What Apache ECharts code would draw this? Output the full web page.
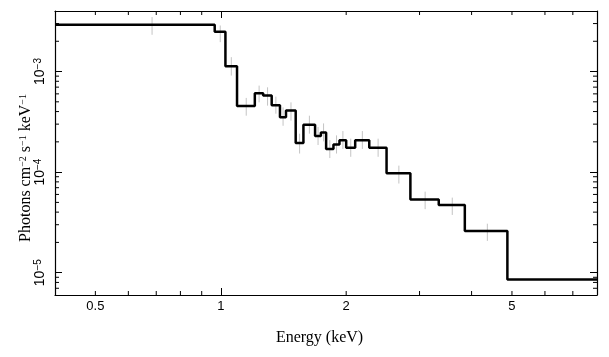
<!DOCTYPE html>
<html><head><meta charset="utf-8">
<script src="https://cdn.jsdelivr.net/npm/echarts@6/dist/echarts.min.js"></script>
<style>html,body{margin:0;padding:0;background:#fff}#c{width:609px;height:357px}</style>
</head><body><div id="c"></div>
<script>
// Step model: bin edges (keV) and model flux per bin
const binEdges = [0.4, 0.967, 1.026, 1.094, 1.207, 1.264, 1.325, 1.387, 1.434, 1.513, 1.579, 1.684, 1.739, 1.790, 1.864, 1.927, 2.000, 2.102, 2.272, 2.500, 2.852, 3.336, 3.853, 4.875, 8.0];
const modelFlux = [2.92e-3, 2.49e-3, 1.13e-3, 4.55e-4, 6.08e-4, 5.79e-4, 4.63e-4, 3.52e-4, 4.11e-4, 1.95e-4, 2.96e-4, 2.29e-4, 2.48e-4, 1.70e-4, 1.88e-4, 2.08e-4, 1.75e-4, 2.08e-4, 1.75e-4, 9.73e-5, 5.33e-5, 4.72e-5, 2.60e-5, 8.57e-6];
// Data error bars (grey)
const dataEnergy = [0.684, 0.997, 1.060, 1.151, 1.236, 1.295, 1.356, 1.411, 1.474, 1.546, 1.632, 1.712, 1.765, 1.827, 1.896, 1.964, 2.051, 2.187, 2.386, 2.676, 3.094, 3.595, 4.364];
const errHigh = [3.48e-3, 2.87e-3, 1.39e-3, 5.47e-4, 7.25e-4, 6.97e-4, 5.63e-4, 4.40e-4, 4.94e-4, 2.41e-4, 3.64e-4, 2.81e-4, 3.05e-4, 2.08e-4, 2.32e-4, 2.56e-4, 2.15e-4, 2.56e-4, 2.15e-4, 1.16e-4, 6.40e-5, 5.58e-5, 3.07e-5];
const errLow = [2.32e-3, 1.96e-3, 9.12e-4, 3.64e-4, 4.94e-4, 4.58e-4, 3.81e-4, 2.89e-4, 3.25e-4, 1.53e-4, 2.41e-4, 1.86e-4, 2.02e-4, 1.38e-4, 1.53e-4, 1.70e-4, 1.42e-4, 1.70e-4, 1.42e-4, 7.70e-5, 4.28e-5, 3.75e-5, 2.07e-5];
// Axes / ticks
const xRange = [0.4, 8];
const yRange = [6e-6, 4e-3];
const xMajorTicks = [1];
const xLabelValues = [0.5, 1, 2, 5];
const xMinorTicks = [0.5, 0.6, 0.7, 0.8, 0.9, 2, 3, 4, 5, 6, 7];
const yMajorTicks = [1e-5, 1e-4, 1e-3];
const yMajorLabels = ['10{s|\u22125}', '10{s|\u22124}', '10{s|\u22123}'];
const yMinorTicks = [7e-6, 8e-6, 9e-6, 2e-5, 3e-5, 4e-5, 5e-5, 6e-5, 7e-5, 8e-5, 9e-5, 2e-4, 3e-4, 4e-4, 5e-4, 6e-4, 7e-4, 8e-4, 9e-4, 2e-3, 3e-3];
const xTitle = 'Energy (keV)';
const yTitle = 'Photons cm{s|\u22122} s{s|\u22121} keV{s|\u22121}';

const SANS = 'Liberation Sans';
const SERIF = 'Liberation Serif';
const stepData = binEdges.map((e, i) => [e, modelFlux[Math.min(i, modelFlux.length - 1)]]);

const chart = echarts.init(document.getElementById('c'));
const lineCol = '#000';
function baseX(pos) {
  return {
    type: 'log', logBase: 10, min: xRange[0], max: xRange[1], position: pos,
    axisLine: { show: true, lineStyle: { color: lineCol, width: 1.2 } },
    axisTick: { show: true, inside: true, length: 7, customValues: xMajorTicks, lineStyle: { color: lineCol, width: 1 } },
    axisLabel: { show: false },
    splitLine: { show: false }, minorTick: { show: false }
  };
}
function baseY(pos) {
  return {
    type: 'log', logBase: 10, min: yRange[0], max: yRange[1], position: pos,
    axisLine: { show: true, lineStyle: { color: lineCol, width: 1.2 } },
    axisTick: { show: true, inside: true, length: 7, customValues: yMajorTicks, lineStyle: { color: lineCol, width: 1 } },
    axisLabel: { show: false },
    splitLine: { show: false }, minorTick: { show: false }
  };
}
const xBottom = baseX('bottom');
xBottom.axisLabel = { show: true, customValues: xLabelValues, fontFamily: SANS, fontSize: 13, color: '#000', margin: 5, formatter: v => String(+v.toPrecision(6)) };
xBottom.name = xTitle; xBottom.nameLocation = 'middle'; xBottom.nameGap = 35; xBottom.nameMoveOverlap = false;
xBottom.nameTextStyle = { fontFamily: SERIF, fontSize: 16, color: '#000', padding: [0, 13, 0, 0] };
const yLeft = baseY('left');
yLeft.axisLabel = {
  show: true, customValues: yMajorTicks, rotate: 90, margin: 8, fontFamily: SANS, fontSize: 14, color: '#000',
  formatter: v => { const i = yMajorTicks.findIndex(t => Math.abs(v / t - 1) < 1e-6); return i < 0 ? '' : yMajorLabels[i]; },
  rich: { s: { fontFamily: SANS, fontSize: 10, color: '#000', verticalAlign: 'top' } }
};
yLeft.name = yTitle; yLeft.nameLocation = 'middle'; yLeft.nameGap = 21; yLeft.nameMoveOverlap = false;
yLeft.nameTextStyle = { fontFamily: SERIF, fontSize: 16, color: '#000', padding: [0, 30, 0, 0],
  rich: { s: { fontFamily: SERIF, fontSize: 10, color: '#000', verticalAlign: 'top' } } };

function tickRender(kind) {
  return function (params, api) {
    const cs = params.coordSys;
    const p = api.coord([api.value(0), api.value(1)]);
    const L = 4, st = { stroke: lineCol, lineWidth: 1 };
    if (kind === 'x') {
      return { type: 'group', children: [
        { type: 'line', shape: { x1: p[0], y1: cs.y + cs.height, x2: p[0], y2: cs.y + cs.height - L }, style: st },
        { type: 'line', shape: { x1: p[0], y1: cs.y, x2: p[0], y2: cs.y + L }, style: st }
      ] };
    }
    return { type: 'group', children: [
      { type: 'line', shape: { x1: cs.x, y1: p[1], x2: cs.x + L, y2: p[1] }, style: st },
      { type: 'line', shape: { x1: cs.x + cs.width, y1: p[1], x2: cs.x + cs.width - L, y2: p[1] }, style: st }
    ] };
  };
}

chart.setOption({
  animation: false,
  backgroundColor: '#fff',
  grid: { left: 55, right: 12, top: 11, bottom: 62, containLabel: false },
  xAxis: [xBottom, baseX('top')],
  yAxis: [yLeft, baseY('right')],
  series: [
    {
      type: 'custom', name: 'data', xAxisIndex: 0, yAxisIndex: 0,
      data: dataEnergy.map((e, i) => [e, errLow[i], errHigh[i]]),
      encode: { x: 0, y: [1, 2] },
      renderItem: (params, api) => {
        const a = api.coord([api.value(0), api.value(1)]);
        const b = api.coord([api.value(0), api.value(2)]);
        return { type: 'line', shape: { x1: a[0], y1: a[1], x2: b[0], y2: b[1] }, style: { stroke: '#c4c4c4', lineWidth: 1 } };
      },
      z: 1
    },
    {
      type: 'line', name: 'model', step: 'end', data: stepData, showSymbol: false, symbol: 'none',
      lineStyle: { color: '#000', width: 2.5 }, z: 3
    },
    {
      type: 'custom', name: 'xminor', data: xMinorTicks.map(v => [v, yRange[0]]),
      encode: { x: 0, y: 1 }, renderItem: tickRender('x'), z: 4, silent: true
    },
    {
      type: 'custom', name: 'yminor', data: yMinorTicks.map(v => [xRange[0], v]),
      encode: { x: 0, y: 1 }, renderItem: tickRender('y'), z: 4, silent: true
    }
  ]
});
</script></body></html>
